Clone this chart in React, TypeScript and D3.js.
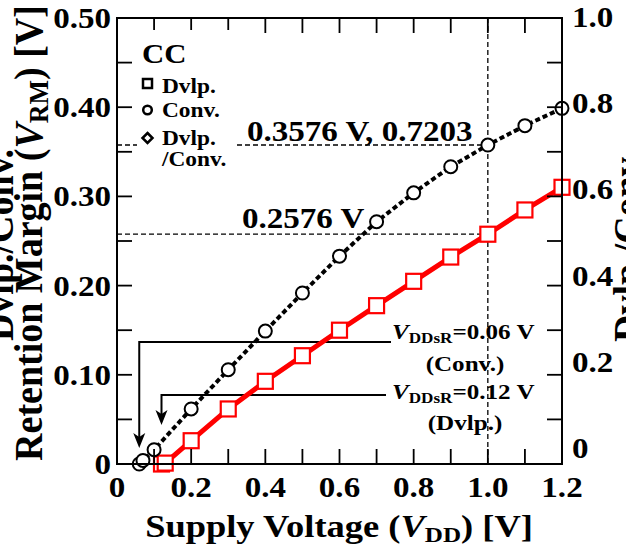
import * as d3 from "d3";

// supply voltage [V] and retention margin [V]
const convVdd = [0.06, 0.07, 0.1, 0.2, 0.3, 0.4, 0.5, 0.6, 0.7, 0.8, 0.9, 1.0, 1.1, 1.2];
const convRM = [0, 0.004, 0.016, 0.0617, 0.1057, 0.149, 0.1917, 0.233, 0.2716, 0.304, 0.3333, 0.3576, 0.3793, 0.3987];
const dvlpVdd = [0.12, 0.13, 0.2, 0.3, 0.4, 0.5, 0.6, 0.7, 0.8, 0.9, 1.0, 1.1, 1.2];
const dvlpRM = [0, 0.001, 0.0261, 0.0617, 0.0927, 0.1214, 0.15, 0.1775, 0.2048, 0.232, 0.2576, 0.2848, 0.3102];

const xTicks = [0, 0.2, 0.4, 0.6, 0.8, 1.0, 1.2];
const xTickLabels = ["0", "0.2", "0.4", "0.6", "0.8", "1.0", "1.2"];
const yTicks = [0, 0.1, 0.2, 0.3, 0.4, 0.5];
const yTickLabels = ["0", "0.10", "0.20", "0.30", "0.40", "0.50"];
const yRTicks = [0, 0.2, 0.4, 0.6, 0.8, 1.0];
const yRTickLabels = ["0", "0.2", "0.4", "0.6", "0.8", "1.0"];

// marked point at 1.0 V
const markVdd = 1.0;
const markConv = 0.3576;
const markDvlp = 0.2576;
const markRatio = "0.7203";

// V_DDsR annotations
const vddsrConv = 0.06;
const vddsrDvlp = 0.12;

const W = 626;
const H = 547;
const SX = 1.14;
const FONT = "'Liberation Serif','Times New Roman',Times,serif";

const T = ({ x, y, size, anchor = "start", sx = SX, rot = 0, children }: any) => (
  <text
    transform={`translate(${x},${y}) scale(${sx},1) rotate(${rot})`}
    fontSize={size}
    fontFamily={FONT}
    fontWeight="bold"
    textAnchor={anchor}
    fill="#000"
  >
    {children}
  </text>
);

export default function App() {
  const x = d3.scaleLinear().domain([0, 1.2]).range([117, 562]);
  const y = d3.scaleLinear().domain([0, 0.5]).range([464, 18]);
  // right axis labels sit a little above their ticks in the original
  const yRLabel = d3.scaleLinear().domain([0, 1]).range([448, 17]);

  const line = d3
    .line<[number, number]>()
    .x((d) => x(d[0]))
    .y((d) => y(d[1]));

  const conv: [number, number][] = convVdd.map((v, i) => [v, convRM[i]]);
  const dvlp: [number, number][] = dvlpVdd.map((v, i) => [v, dvlpRM[i]]);

  const minorX = d3.range(1, 12).map((i) => i * 0.1);
  const minorY = d3.range(1, 10).map((i) => i * 0.05);
  const tl = 15;

  const arrowHead = (px: number, py: number) =>
    `M${px},${py} L${px - 6},${py - 15} L${px},${py - 11} L${px + 6},${py - 15} Z`;

  const convLineY = 342;
  const dvlpLineY = 395;

  return (
    <svg width={W} height={H} style={{ position: "absolute", left: 0, top: 0, background: "#fff" }}>
      {/* guide lines */}
      <g stroke="#000" strokeWidth={1.3} strokeDasharray="5,3" fill="none">
        <line x1={x(0)} x2={x(markVdd)} y1={y(markConv)} y2={y(markConv)} />
        <line x1={x(0)} x2={x(markVdd)} y1={y(markDvlp)} y2={y(markDvlp)} />
        <line x1={x(markVdd)} x2={x(markVdd)} y1={y(0.5)} y2={y(0)} />
      </g>

      {/* arrows */}
      <g stroke="#000" strokeWidth={2} fill="none">
        <polyline points={`391,${convLineY} ${x(vddsrConv)},${convLineY} ${x(vddsrConv)},${440}`} />
        <polyline points={`386,${dvlpLineY} ${x(vddsrDvlp)},${dvlpLineY} ${x(vddsrDvlp)},${418}`} />
      </g>
      <path d={arrowHead(x(vddsrConv), 448)} fill="#000" />
      <path d={arrowHead(x(vddsrDvlp), 425)} fill="#000" />

      {/* series */}
      <path d={line(dvlp) || ""} fill="none" stroke="#ff0000" strokeWidth={5} />
      <path d={line(conv) || ""} fill="none" stroke="#000" strokeWidth={4} strokeDasharray="5,3" />
      {dvlp.map((d, i) => (
        <rect key={i} x={x(d[0]) - 7.5} y={y(d[1]) - 7.5} width={15} height={15} fill="#fff" stroke="#ff0000" strokeWidth={2.2} />
      ))}
      {conv.map((d, i) => (
        <circle key={i} cx={x(d[0])} cy={y(d[1])} r={6.5} fill="#fff" stroke="#000" strokeWidth={2} />
      ))}

      {/* frame and ticks */}
      <rect x={x(0)} y={y(0.5)} width={x(1.2) - x(0)} height={y(0) - y(0.5)} fill="none" stroke="#000" strokeWidth={2} />
      <g stroke="#000" strokeWidth={1.8}>
        {minorX.map((v) => (
          <g key={v}>
            <line x1={x(v)} x2={x(v)} y1={y(0)} y2={y(0) - tl} />
            <line x1={x(v)} x2={x(v)} y1={y(0.5)} y2={y(0.5) + tl} />
          </g>
        ))}
        {minorY.map((v) => (
          <g key={v}>
            <line x1={x(0)} x2={x(0) + tl} y1={y(v)} y2={y(v)} />
            <line x1={x(1.2)} x2={x(1.2) - tl} y1={y(v)} y2={y(v)} />
          </g>
        ))}
      </g>

      {/* tick labels */}
      {xTicks.map((v, i) => (
        <T key={v} x={x(v)} y={497} size={29} anchor="middle">{xTickLabels[i]}</T>
      ))}
      {yTicks.map((v, i) => (
        <T key={v} x={111} y={y(v) + 10} size={29} anchor="end">{yTickLabels[i]}</T>
      ))}
      {yRTicks.map((v, i) => (
        <T key={v} x={572} y={yRLabel(v) + 10} size={29}>{yRTickLabels[i]}</T>
      ))}

      {/* legend */}
      <rect x={137} y={30} width={99} height={142} fill="#fff" />
      <T x={142} y={63} size={27}>CC</T>
      <rect x={143} y={79} width={9} height={9} fill="none" stroke="#000" strokeWidth={2.5} />
      <T x={162} y={93} size={20.5}>Dvlp.</T>
      <circle cx={147.5} cy={110} r={4.3} fill="none" stroke="#000" strokeWidth={2.5} />
      <T x={162} y={117} size={20.5}>Conv.</T>
      <path d="M147.5,133 L152.5,138 L147.5,143 L142.5,138 Z" fill="none" stroke="#000" strokeWidth={2.5} />
      <T x={162} y={145} size={20.5}>Dvlp.</T>
      <T x={162} y={166} size={20.5}>/Conv.</T>

      {/* marked values */}
      <T x={247} y={141} size={29}>{`${markConv} V, ${markRatio}`}</T>
      <T x={242} y={228} size={29}>{`${markDvlp} V`}</T>

      {/* V_DDsR labels */}
      <T x={392} y={339} size={22}>
        <tspan fontStyle="italic">V</tspan>
        <tspan fontSize={15} dy={4}>DDsR</tspan>
        <tspan dy={-4}>{`=${vddsrConv.toFixed(2)} V`}</tspan>
      </T>
      <T x={465} y={371} size={22} anchor="middle">(Conv.)</T>
      <T x={392} y={399} size={22}>
        <tspan fontStyle="italic">V</tspan>
        <tspan fontSize={15} dy={4}>DDsR</tspan>
        <tspan dy={-4}>{`=${vddsrDvlp.toFixed(2)} V`}</tspan>
      </T>
      <T x={465} y={430} size={22} anchor="middle">(Dvlp.)</T>

      {/* axis titles */}
      <T x={339} y={537} size={32} anchor="middle">
        Supply Voltage (<tspan fontStyle="italic">V</tspan>
        <tspan fontSize={22} dy={5}>DD</tspan>
        <tspan dy={-5}>) [V]</tspan>
      </T>
      <T x={13} y={245} size={38} anchor="middle" sx={1.07} rot={-90}>Dvlp./Conv.</T>
      <T x={42} y={233} size={38} anchor="middle" sx={1.07} rot={-90}>
        Retention Margin (<tspan fontStyle="italic">V</tspan>
        <tspan fontSize={26} dy={6}>RM</tspan>
        <tspan dy={-6}>) [V]</tspan>
      </T>
      <T x={641} y={342} size={38} sx={1.07} rot={-90}>Dvlp./Conv.</T>
    </svg>
  );
}
